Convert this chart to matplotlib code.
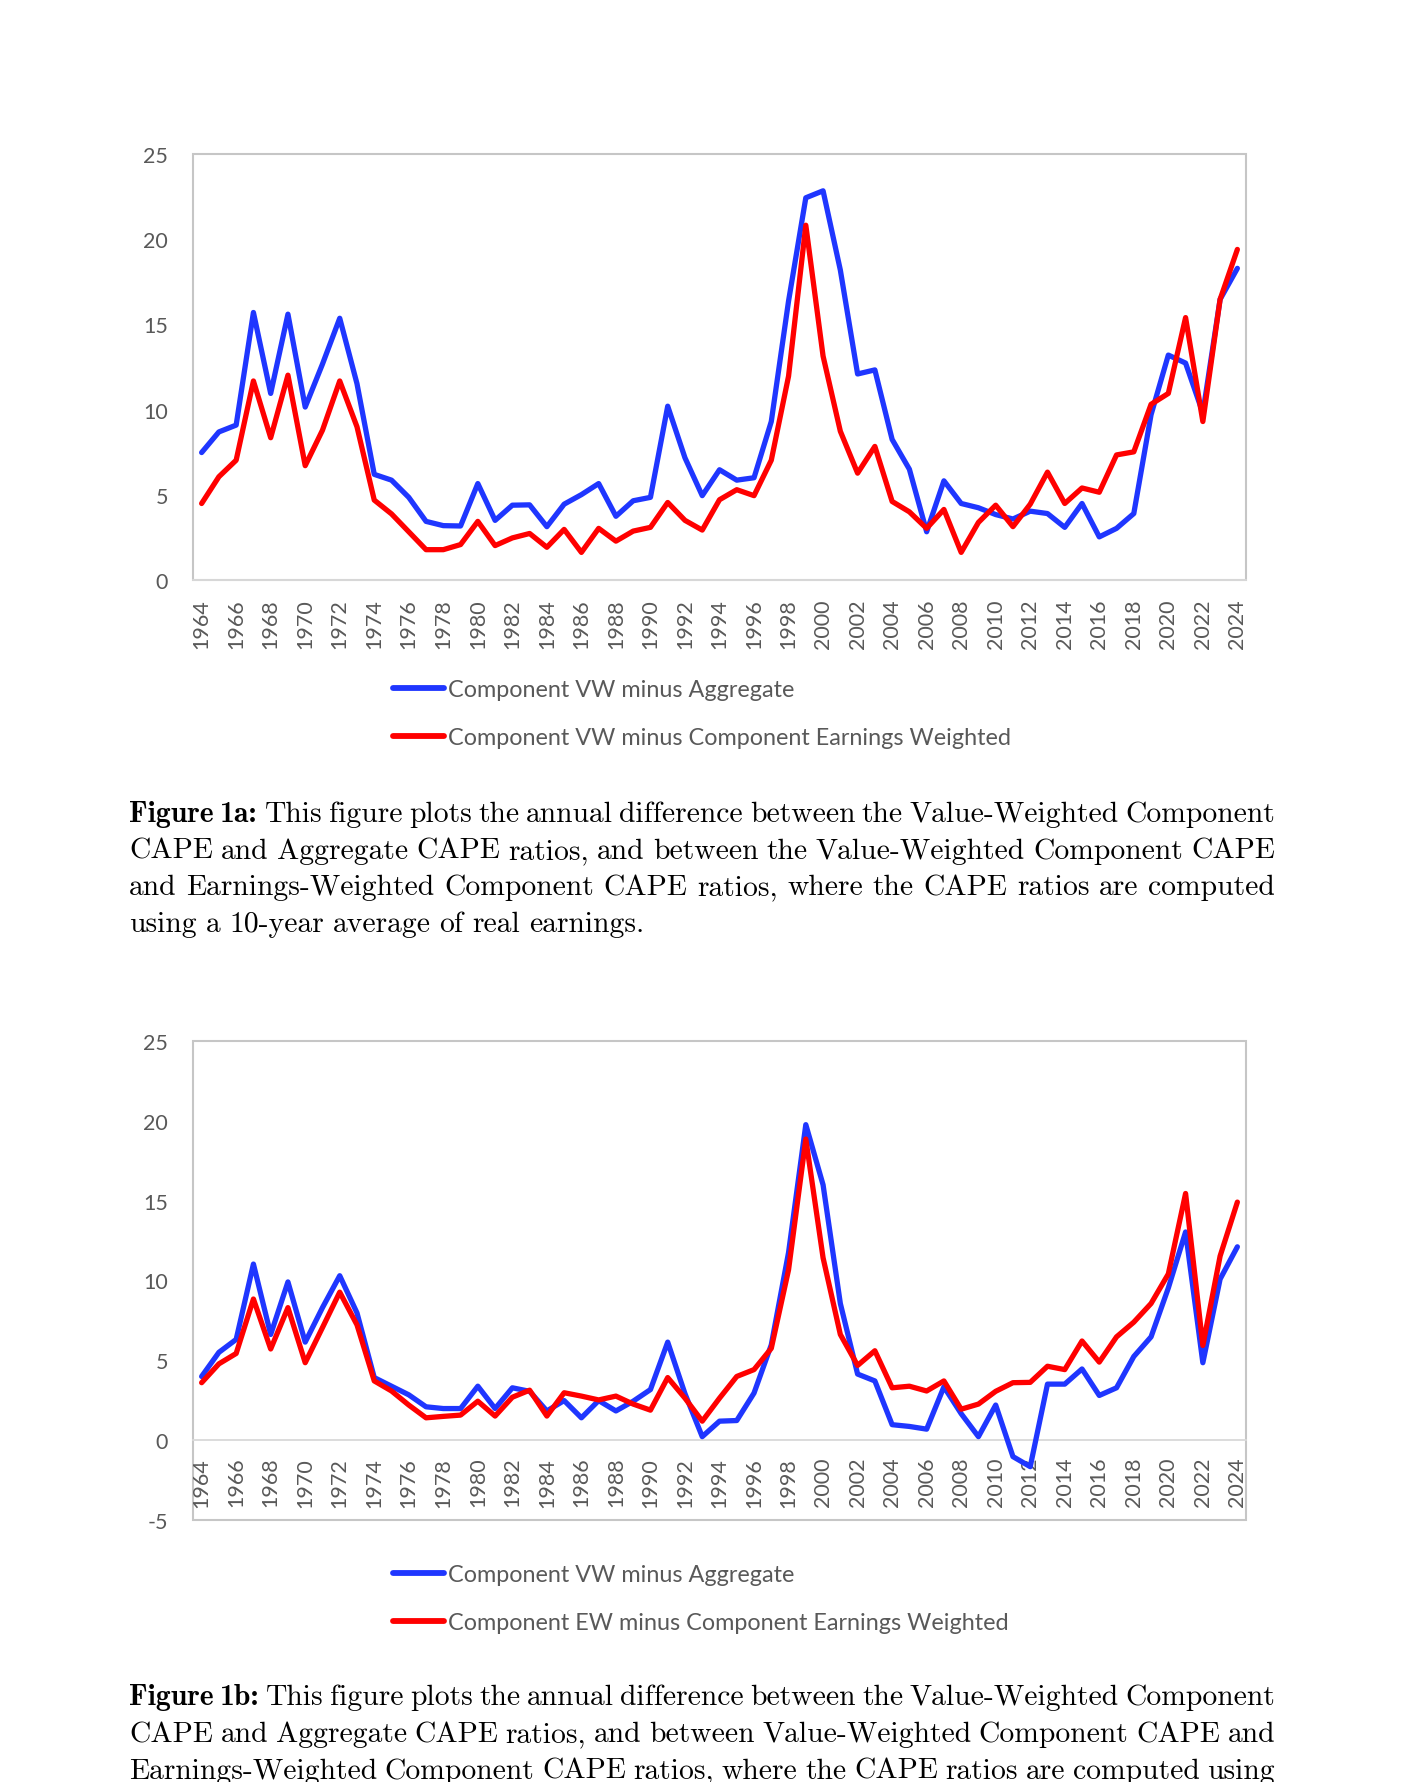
import matplotlib
matplotlib.use("Agg")
import matplotlib.pyplot as plt
from matplotlib.lines import Line2D
from matplotlib.patches import Rectangle
from matplotlib.transforms import IdentityTransform

plt.rcParams["axes.unicode_minus"] = False

# ---------------- data ----------------
years = list(range(1964, 2025))

a_vw_minus_agg = [7.48, 8.69, 9.09, 15.7, 10.95, 15.6, 10.15, 12.67, 15.36, 11.52,
                  6.2, 5.86, 4.85, 3.44, 3.19, 3.17, 5.66, 3.5, 4.39, 4.41,
                  3.13, 4.45, 5.01, 5.66, 3.74, 4.65, 4.85, 10.2, 7.17, 4.95,
                  6.47, 5.86, 6.0, 9.3, 16.37, 22.43, 22.84, 18.19, 12.09, 12.33,
                  8.25, 6.5, 2.83, 5.82, 4.49, 4.24, 3.84, 3.58, 4.04, 3.9,
                  3.09, 4.49, 2.53, 3.03, 3.9, 9.7, 13.2, 12.73, 9.8, 16.47, 18.29]

a_vw_minus_ew = [4.49, 6.06, 7.03, 11.68, 8.35, 12.02, 6.71, 8.79, 11.68, 8.99,
                 4.69, 3.88, 2.83, 1.78, 1.78, 2.08, 3.44, 2.02, 2.47, 2.73,
                 1.92, 2.97, 1.62, 3.03, 2.28, 2.87, 3.09, 4.55, 3.5, 2.93,
                 4.71, 5.3, 4.95, 7.03, 11.96, 20.82, 13.14, 8.73, 6.27, 7.84,
                 4.61, 4.0, 3.03, 4.14, 1.62, 3.38, 4.39, 3.13, 4.45, 6.33,
                 4.49, 5.4, 5.15, 7.34, 7.52, 10.31, 10.95, 15.4, 9.3, 16.47, 19.4]

b_vw_minus_agg = [3.99, 5.5, 6.31, 11.03, 6.62, 9.91, 6.14, 8.3, 10.3, 7.97,
                  3.92, 3.38, 2.84, 2.09, 1.98, 1.98, 3.38, 1.98, 3.28, 3.06,
                  1.83, 2.48, 1.4, 2.48, 1.83, 2.44, 3.17, 6.14, 2.91, 0.22,
                  1.19, 1.23, 2.95, 5.97, 11.75, 19.76, 15.99, 8.56, 4.14, 3.71,
                  0.97, 0.86, 0.69, 3.34, 1.66, 0.22, 2.2, -1.03, -1.66, 3.51,
                  3.51, 4.46, 2.8, 3.28, 5.24, 6.47, 9.53, 13.04, 4.85, 10.09, 12.11]

b_ew_minus_ew = [3.6, 4.78, 5.43, 8.84, 5.71, 8.3, 4.85, 7.05, 9.27, 7.22,
                 3.71, 3.08, 2.2, 1.4, 1.49, 1.57, 2.44, 1.51, 2.69, 3.13,
                 1.51, 2.97, 2.76, 2.52, 2.76, 2.26, 1.88, 3.92, 2.63, 1.19,
                 2.63, 3.99, 4.42, 5.75, 10.67, 18.86, 11.42, 6.62, 4.68, 5.6,
                 3.28, 3.38, 3.08, 3.71, 1.94, 2.26, 3.06, 3.6, 3.62, 4.63,
                 4.42, 6.21, 4.89, 6.47, 7.39, 8.56, 10.41, 15.45, 5.93, 11.53, 14.91]

yticks_a = [0, 5, 10, 15, 20, 25]
yticks_b = [-5, 0, 5, 10, 15, 20, 25]
xtick_years = years[::2]

labels_a = ["Component VW minus Aggregate",
            "Component VW minus Component Earnings Weighted"]
labels_b = ["Component VW minus Aggregate",
            "Component EW minus Component Earnings Weighted"]

caption_a = ["Figure 1a: This figure plots the annual difference between the Value-Weighted Component",
             "CAPE and Aggregate CAPE ratios, and between the Value-Weighted Component CAPE",
             "and Earnings-Weighted Component CAPE ratios, where the CAPE ratios are computed",
             "using a 10-year average of real earnings."]
caption_b = ["Figure 1b: This figure plots the annual difference between the Value-Weighted Component",
             "CAPE and Aggregate CAPE ratios, and between Value-Weighted Component CAPE and",
             "Earnings-Weighted Component CAPE ratios, where the CAPE ratios are computed using"]

# ---------------- style ----------------
BLUE = "#1F36FF"
RED = "#FF0000"
GRAY_TXT = "#595959"
FRAME = "#C6C6C6"
SANS = ["Lato", "DejaVu Sans"]
TICK_FS = 15.5
LEG_FS = 16.8

W, H = 1401, 1783
fig = plt.figure(figsize=(W / 100, H / 100), dpi=100)


def px_axes(l, t, r, b):
    return fig.add_axes([l / W, 1 - b / H, (r - l) / W, (b - t) / H])


def draw_chart(ax, s1, s2, yticks, xpad):
    for s in ["top", "left", "right"]:
        ax.spines[s].set_visible(False)
    ax.spines["bottom"].set_position(("data", 0))
    ax.spines["bottom"].set_color("#D9D9D9")
    ax.spines["bottom"].set_linewidth(1.3)
    ax.plot(years, s1, color=BLUE, lw=3.8, solid_joinstyle="round",
            solid_capstyle="round", zorder=3)
    ax.plot(years, s2, color=RED, lw=3.8, solid_joinstyle="round",
            solid_capstyle="round", zorder=4)
    ax.set_xlim(1963.5, 2024.5)
    ax.set_ylim(yticks[0], yticks[-1])
    ax.set_yticks(yticks)
    ax.set_xticks(xtick_years)
    ax.set_xticklabels([str(y) for y in xtick_years])
    ax.add_patch(Rectangle((0, 0), 1, 1, transform=ax.transAxes, fill=False,
                           ec=FRAME, lw=1.5, clip_on=False, zorder=1))
    ax.tick_params(axis="both", length=0, labelsize=TICK_FS, labelcolor=GRAY_TXT)
    ax.tick_params(axis="x", pad=xpad, labelrotation=90)
    ax.tick_params(axis="y", pad=18)
    for lab in ax.get_xticklabels() + ax.get_yticklabels():
        lab.set_family(SANS)


ax1 = px_axes(193, 155, 1246, 581)
draw_chart(ax1, a_vw_minus_agg, a_vw_minus_ew, yticks_a, 13)
ax2 = px_axes(193, 1042, 1246, 1521)
draw_chart(ax2, b_vw_minus_agg, b_ew_minus_ew, yticks_b, 12)


def add_legend(labels, y_first):
    handles = [Line2D([], [], color=BLUE, lw=4.2, solid_capstyle="round"),
               Line2D([], [], color=RED, lw=4.2, solid_capstyle="round")]
    leg = fig.legend(handles, labels, loc="upper left",
                     bbox_to_anchor=(393 / W, 1 - (y_first - 10) / H),
                     frameon=False, handlelength=2.2,
                     handletextpad=0.15, labelspacing=1.15, borderpad=0,
                     borderaxespad=0, prop={"family": SANS, "size": LEG_FS})
    for t in leg.get_texts():
        t.set_color(GRAY_TXT)
    return leg


add_legend(labels_a, 690)
add_legend(labels_b, 1575)

# ---------------- justified captions ----------------
CAP_FS = 21.3
X0, X1 = 129, 1275
LH = 36.6
renderer = fig.canvas.get_renderer()


def draw_caption(lines, first_baseline, n_bold=2, last_is_full=False):
    idx = 0
    em = CAP_FS * 100 / 72
    for i, line in enumerate(lines):
        words = line.split()
        texts = []
        for w in words:
            bold = idx < n_bold
            t = fig.text(0, 0, w, fontsize=CAP_FS,
                         family="cmb10" if bold else "cmr10",
                         color="black", va="baseline", ha="left",
                         transform=IdentityTransform())
            texts.append(t)
            idx += 1
        widths = [t.get_window_extent(renderer).width for t in texts]
        justify = (i < len(lines) - 1) or last_is_full
        if justify and len(words) > 1:
            gap = (X1 - X0 - sum(widths)) / (len(words) - 1)
        else:
            gap = 0.3 * em
        x = X0
        yb = H - (first_baseline + i * LH)
        for t, w in zip(texts, widths):
            t.set_position((x, yb))
            x += w + gap


draw_caption(caption_a, 822.3)
draw_caption(caption_b, 1705.5, last_is_full=True)

fig.savefig("out.png", dpi=100, facecolor="white")
